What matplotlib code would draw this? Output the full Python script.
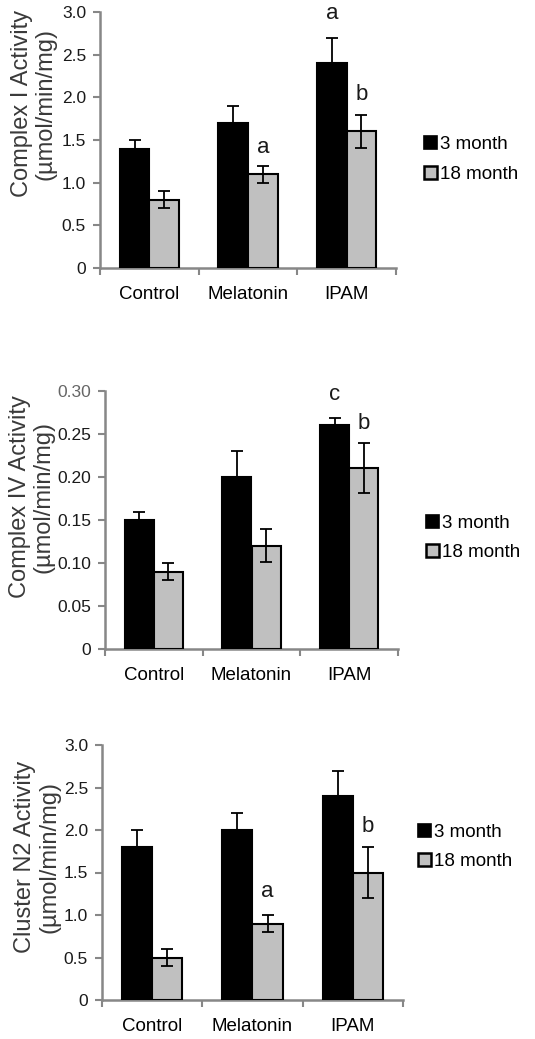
import matplotlib
matplotlib.use('Agg')
import matplotlib.pyplot as plt
import matplotlib.patches as mpatches
import numpy as np

plt.rcParams['font.family'] = ['Liberation Sans', 'DejaVu Sans']

# data
groups = ['Control', 'Melatonin', 'IPAM']
series = ['3 month', '18 month']

# Complex I
c1_3m = [1.4, 1.7, 2.4]
c1_3m_err = [0.1, 0.2, 0.3]
c1_18m = [0.8, 1.1, 1.6]
c1_18m_err = [0.1, 0.1, 0.19]
c1_letters = [('a', 2, 0, 2.92), ('a', 1, 1, 1.35), ('b', 2, 1, 1.97)]

# Complex IV
c4_3m = [0.15, 0.20, 0.26]
c4_3m_err = [0.009, 0.03, 0.009]
c4_18m = [0.09, 0.12, 0.21]
c4_18m_err = [0.0095, 0.019, 0.029]
c4_letters = [('c', 2, 0, 0.2895), ('b', 2, 1, 0.256)]

# Cluster N2
n2_3m = [1.8, 2.0, 2.4]
n2_3m_err = [0.2, 0.2, 0.3]
n2_18m = [0.5, 0.9, 1.5]
n2_18m_err = [0.095, 0.1, 0.3]
n2_letters = [('a', 1, 1, 1.21), ('b', 2, 1, 1.98)]

black = '#000000'
grey = '#c0c0c0'
axis_grey = '#878787'
text_col = '#1a1a1a'

W, H = 535, 1039
fig = plt.figure(figsize=(W / 100, H / 100), dpi=100)
fig.patch.set_facecolor('white')


def panel(rect, v3, e3, v18, e18, letters, ylim, yticks, yticklabels,
          ylabel, label_xy, legend_xy, tick_font):
    ax = fig.add_axes([rect[0] / W, 1 - rect[3] / H,
                       (rect[2] - rect[0]) / W, (rect[3] - rect[1]) / H])
    x = np.arange(len(groups)) + 0.5
    w = 0.3
    ax.bar(x - w / 2, v3, w, color=black, edgecolor='black', linewidth=1.5,
           yerr=e3, ecolor='black',
           error_kw=dict(elinewidth=1.3, capsize=4.5, capthick=1.3), zorder=3)
    ax.bar(x + w / 2, v18, w, color=grey, edgecolor='black', linewidth=1.5,
           yerr=e18, ecolor='black',
           error_kw=dict(elinewidth=1.3, capsize=4.5, capthick=1.3), zorder=3)
    for txt, gi, si, yv in letters:
        xx = x[gi] - w / 2 if si == 0 else x[gi] + w / 2
        ax.text(xx, yv, txt, ha='center', va='baseline', fontsize=16,
                color=text_col)

    ax.set_xlim(0, 3)
    ax.set_ylim(*ylim)
    ax.set_yticks(yticks)
    ax.set_yticklabels(yticklabels, fontsize=12.5, color=text_col,
                       family=tick_font)
    ax.set_xticks([0, 1, 2, 3])
    ax.set_xticklabels([])
    ax.set_xticks(x, minor=True)
    ax.set_xticklabels(groups, minor=True, fontsize=13.5, color='black')
    ax.tick_params(axis='x', which='minor', length=0, pad=13)
    ax.tick_params(axis='x', which='major', length=5, width=1.5,
                   color=axis_grey, direction='out')
    ax.tick_params(axis='y', length=5, width=1.5, color=axis_grey,
                   direction='out', pad=5)
    for s in ['top', 'right']:
        ax.spines[s].set_visible(False)
    for s in ['left', 'bottom']:
        ax.spines[s].set_color(axis_grey)
        ax.spines[s].set_linewidth(1.8)

    ax.text(label_xy[0], label_xy[1], ylabel, transform=ax.transAxes,
            rotation=90, ha='center', va='center', multialignment='center',
            fontsize=17, color='#3a3a3a', linespacing=1.1)

    handles = [mpatches.Patch(facecolor=black, edgecolor='black', lw=1.2),
               mpatches.Patch(facecolor=grey, edgecolor='black', lw=1.8)]
    ax.legend(handles, series, loc='center left', bbox_to_anchor=legend_xy,
              frameon=False, fontsize=13.5, handlelength=0.7,
              handleheight=0.7, handletextpad=0.15, labelspacing=0.65,
              borderpad=0, borderaxespad=0)
    return ax


panel((100, 12, 396, 268), c1_3m, c1_3m_err, c1_18m, c1_18m_err, c1_letters,
      (0, 3.0), [0, 0.5, 1.0, 1.5, 2.0, 2.5, 3.0],
      ['0', '0.5', '1.0', '1.5', '2.0', '2.5', '3.0'],
      'Complex I Activity\n(\u00b5mol/min/mg)', (-0.225, 0.641),
      (1.095, 0.424), ['Liberation Sans', 'DejaVu Sans'])

ax2 = panel((105, 391, 398, 649), c4_3m, c4_3m_err, c4_18m, c4_18m_err,
            c4_letters, (0, 0.30), [0, 0.05, 0.10, 0.15, 0.20, 0.25, 0.30],
            ['0', '0.05', '0.10', '0.15', '0.20', '0.25', '0.30'],
            'Complex IV Activity\n(\u00b5mol/min/mg)', (-0.25, 0.589),
            (1.095, 0.43), ['Liberation Sans', 'DejaVu Sans'])
ax2.get_yticklabels()[-1].set_color('#666666')

panel((102, 745, 403, 1000), n2_3m, n2_3m_err, n2_18m, n2_18m_err, n2_letters,
      (0, 3.0), [0, 0.5, 1.0, 1.5, 2.0, 2.5, 3.0],
      ['0', '0.5', '1.0', '1.5', '2.0', '2.5', '3.0'],
      'Cluster N2 Activity\n(\u00b5mol/min/mg)', (-0.215, 0.561),
      (1.05, 0.60), ['Liberation Sans Narrow', 'Liberation Sans'])

plt.savefig('out.png', dpi=100, facecolor='white')
